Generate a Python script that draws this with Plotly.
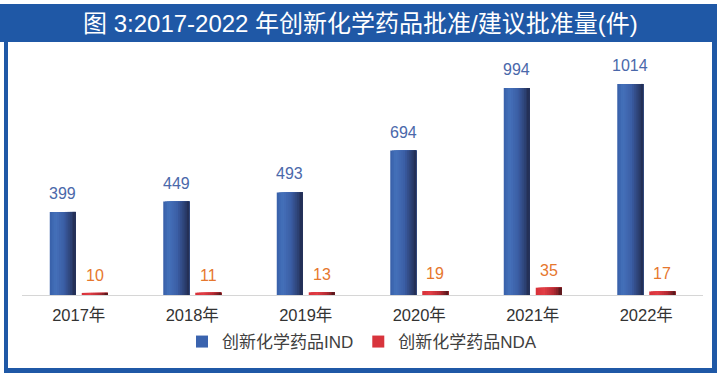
import plotly.graph_objects as go

# ---- data ----
years = ["2017年", "2018年", "2019年", "2020年", "2021年", "2022年"]
ind_values = [399, 449, 493, 694, 994, 1014]
nda_values = [10, 11, 13, 19, 35, 17]
series_names = ["创新化学药品IND", "创新化学药品NDA"]
title_text = "图 3:2017-2022 年创新化学药品批准/建议批准量(件)"

# ---- layout constants ----
W, H = 720, 377
L, R, T, B = 22, 17, 50, 82
PW, PH = W - L - R, H - T - B
YMAX = 1177
FONT = "Liberation Sans, Arial, Noto Sans CJK SC"
BLUE_FRAME = "#1f58a6"

BAR_W = 0.229
HALF_GAP = 0.0264
N_STRIPES = 14

IND_STOPS = [(0.0, "#3a62ab"), (0.2, "#4571ba"), (0.55, "#3b5ea5"), (1.0, "#243057")]
NDA_STOPS = [(0.0, "#d8323a"), (0.3, "#e23e46"), (0.7, "#b32a33"), (1.0, "#5c191d")]


def h2r(h):
    h = h.lstrip("#")
    return tuple(int(h[i:i + 2], 16) for i in (0, 2, 4))


def grad(stops, t):
    for (t0, c0), (t1, c1) in zip(stops[:-1], stops[1:]):
        if t <= t1:
            f = 0 if t1 == t0 else (t - t0) / (t1 - t0)
            a, b = h2r(c0), h2r(c1)
            return "rgb(%d,%d,%d)" % tuple(round(a[i] + (b[i] - a[i]) * f) for i in range(3))
    return stops[-1][1]


def px_x(px):
    return (px - L) / PW


def px_y(py):
    return (H - B - py) / PH


xs = list(range(len(years)))
fig = go.Figure()


def add_gradient_bars(values, left_offset, stops):
    for k in range(N_STRIPES):
        dw = BAR_W * k / N_STRIPES
        fig.add_trace(go.Bar(
            x=xs, y=values,
            offset=left_offset + dw, width=BAR_W - dw,
            marker=dict(color=grad(stops, k / (N_STRIPES - 1)), line=dict(width=0)),
            showlegend=False, hoverinfo="skip",
        ))


add_gradient_bars(ind_values, -HALF_GAP - BAR_W, IND_STOPS)
add_gradient_bars(nda_values, HALF_GAP, NDA_STOPS)

# legend entries
fig.add_trace(go.Bar(x=[None], y=[None], name=series_names[0],
                     marker=dict(color="#3a63ae", line=dict(width=0))))
fig.add_trace(go.Bar(x=[None], y=[None], name=series_names[1],
                     marker=dict(color="#d8343c", line=dict(width=0))))

annotations = []
ind_c = -HALF_GAP - BAR_W / 2
nda_c = HALF_GAP + BAR_W / 2
for i, v in enumerate(ind_values):
    annotations.append(dict(x=i + ind_c, y=v, xref="x", yref="y", text=str(v),
                            showarrow=False, yanchor="bottom", yshift=8,
                            font=dict(family=FONT, size=16, color="#4a68aa")))
for i, v in enumerate(nda_values):
    annotations.append(dict(x=i + nda_c, y=v, xref="x", yref="y", text=str(v),
                            showarrow=False, yanchor="bottom", yshift=7,
                            font=dict(family=FONT, size=16, color="#e6772e")))
annotations.append(dict(x=px_x(360), y=px_y(23), xref="paper", yref="paper",
                        text=title_text, showarrow=False, xanchor="center", yanchor="middle",
                        font=dict(family=FONT, size=24, color="white")))

shapes = [
    dict(type="rect", xref="paper", yref="paper", x0=px_x(4), x1=px_x(717),
         y0=px_y(4), y1=px_y(373), fillcolor=BLUE_FRAME, line=dict(width=0), layer="below"),
    dict(type="rect", xref="paper", yref="paper", x0=px_x(0), x1=px_x(4),
         y0=px_y(4), y1=px_y(42), fillcolor=BLUE_FRAME, line=dict(width=0), layer="below"),
    dict(type="rect", xref="paper", yref="paper", x0=px_x(8), x1=px_x(712),
         y0=px_y(42), y1=px_y(368), fillcolor="white", line=dict(width=0), layer="below"),
]

fig.update_layout(
    width=W, height=H,
    margin=dict(l=L, r=R, t=T, b=B, pad=0, autoexpand=False),
    paper_bgcolor="white", plot_bgcolor="rgba(0,0,0,0)",
    barmode="overlay",
    font=dict(family=FONT, size=16, color="#333333"),
    xaxis=dict(range=[-0.5, len(years) - 0.5], tickvals=xs, ticktext=years,
               showgrid=False, zeroline=False, showline=True, linecolor="#d6d6d6",
               linewidth=1, ticks="", ticklabelstandoff=5,
               tickfont=dict(family=FONT, size=16.5, color="#333333"), fixedrange=True),
    yaxis=dict(range=[0, YMAX], visible=False, showgrid=False, zeroline=False, fixedrange=True),
    legend=dict(orientation="h", xref="paper", yref="paper",
                x=px_x(362), xanchor="center", y=px_y(342), yanchor="middle",
                font=dict(family=FONT, size=17, color="#404040"),
                bgcolor="rgba(0,0,0,0)"),
    annotations=annotations,
    shapes=shapes,
    showlegend=True,
)

fig.write_html("out.html", config={"displayModeBar": False},
               post_script="document.body.style.margin='0';document.body.style.overflow='hidden';")
